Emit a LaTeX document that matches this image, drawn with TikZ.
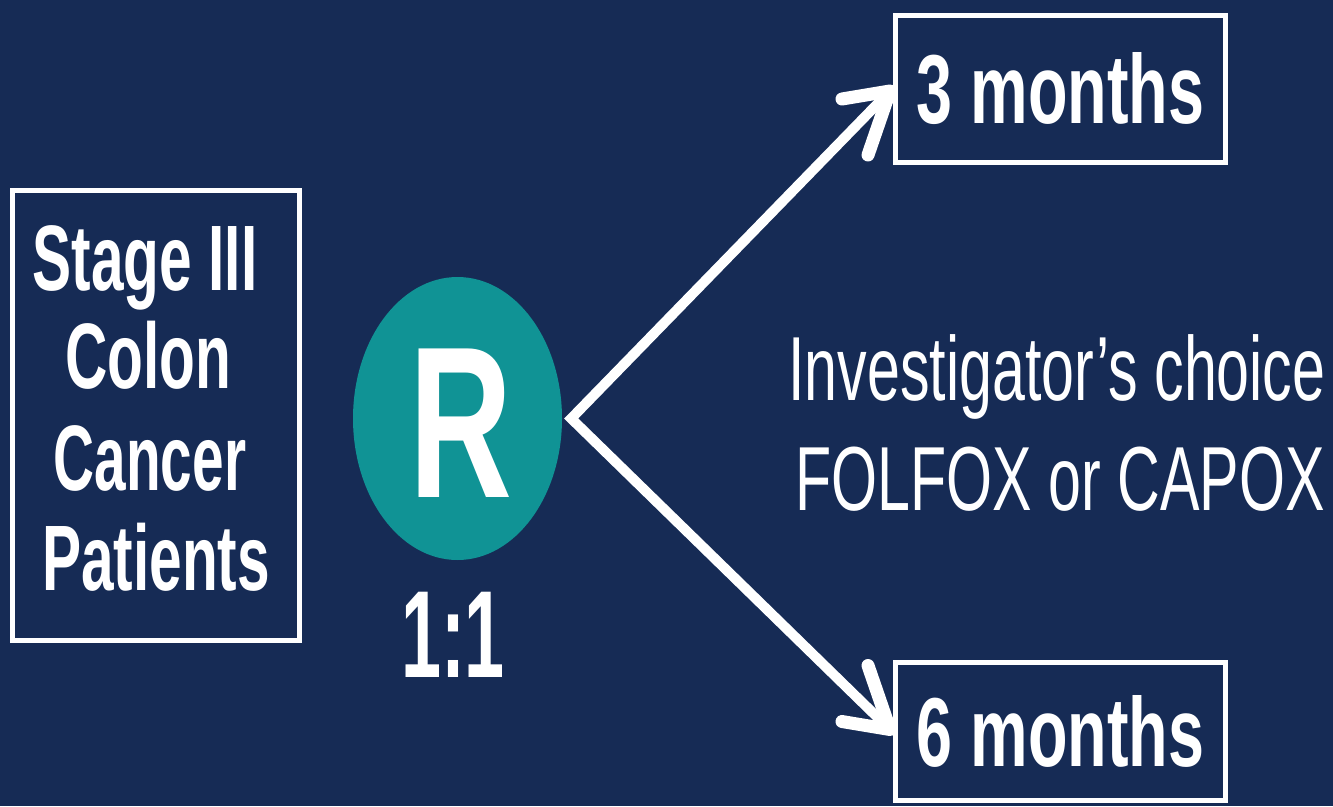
\documentclass[tikz,border=0pt]{standalone}
\usepackage{fontspec}
\usepackage{graphicx}
\setmainfont{Liberation Sans}
\usetikzlibrary{arrows.meta,shapes.geometric}
\definecolor{navy}{RGB}{22,43,85}
\definecolor{teal}{RGB}{16,147,149}
\newcommand\sx[2]{\scalebox{#1}[1]{#2}}
\begin{document}
\begin{tikzpicture}[x=1pt,y=-1pt,
  frame/.style={draw=white,line width=5pt,inner sep=0pt},
  bigtxt/.style={text=white,inner sep=0pt,anchor=base,font=\bfseries\fontsize{93}{100}\selectfont},
  armtxt/.style={text=white,font=\bfseries\fontsize{98}{100}\selectfont},
  regtxt/.style={text=white,inner sep=0pt,anchor=base,font=\fontsize{91}{100}\selectfont},
  conn/.style={draw=white,line width=10pt,line join=miter},
  barb/.style={draw=white,line width=13pt,line cap=round,line join=round}
]
\fill[navy] (0,0) rectangle (1333,806);
\useasboundingbox (0,0) rectangle (1333,806);

% left box
\node[frame,minimum width=287pt,minimum height=450pt] (pat) at (156,415.5) {};
\node[bigtxt] (l1) at (145,290) {\sx{0.63}{Stage III}};
\node[bigtxt] (l2) at (148,388) {\sx{0.63}{Colon}};
\node[bigtxt] (l3) at (150,490) {\sx{0.61}{Cancer}};
\node[bigtxt] (l4) at (156,590) {\sx{0.63}{Patients}};

% randomisation circle
\node[ellipse,fill=teal,minimum width=209pt,minimum height=283pt,inner sep=0pt] (R) at (457.5,418.5) {};
\node[text=white,inner sep=0pt,anchor=base,font=\bfseries\fontsize{216}{216}\selectfont] (Rt) at (461,497) {\sx{0.66}{R}};
\node[text=white,inner sep=0pt,anchor=base,font=\bfseries\fontsize{124}{124}\selectfont] (ratio) at (453,677) {\sx{0.58}{1:1}};

% arm boxes
\node[frame,armtxt,minimum width=330pt,minimum height=147pt] (m3) at (1060.5,89) {\sx{0.66}{3 months}};
\node[frame,armtxt,minimum width=330pt,minimum height=138pt] (m6) at (1060.5,731.5) {\sx{0.66}{6 months}};

% middle text
\node[regtxt] (c1) at (1057,400) {\sx{0.65}{Investigator’s choice}};
\node[regtxt] (c2) at (1060,510) {\sx{0.65}{FOLFOX or CAPOX}};

% connectors
\coordinate (v) at ([xshift=9pt]R.east);
\coordinate (t3) at ([shift={(-3,2)}]m3.west);
\coordinate (t6) at ([shift={(-3,-2)}]m6.west);
\draw[conn,shorten <=6pt,shorten >=6pt] (t3) -- (v) -- (t6);
\draw[barb] (t3) ++(-48,8) -- (t3) -- ++(-22,64);
\draw[barb] (t6) ++(-48,-8) -- (t6) -- ++(-22,-64);
\end{tikzpicture}
\end{document}
